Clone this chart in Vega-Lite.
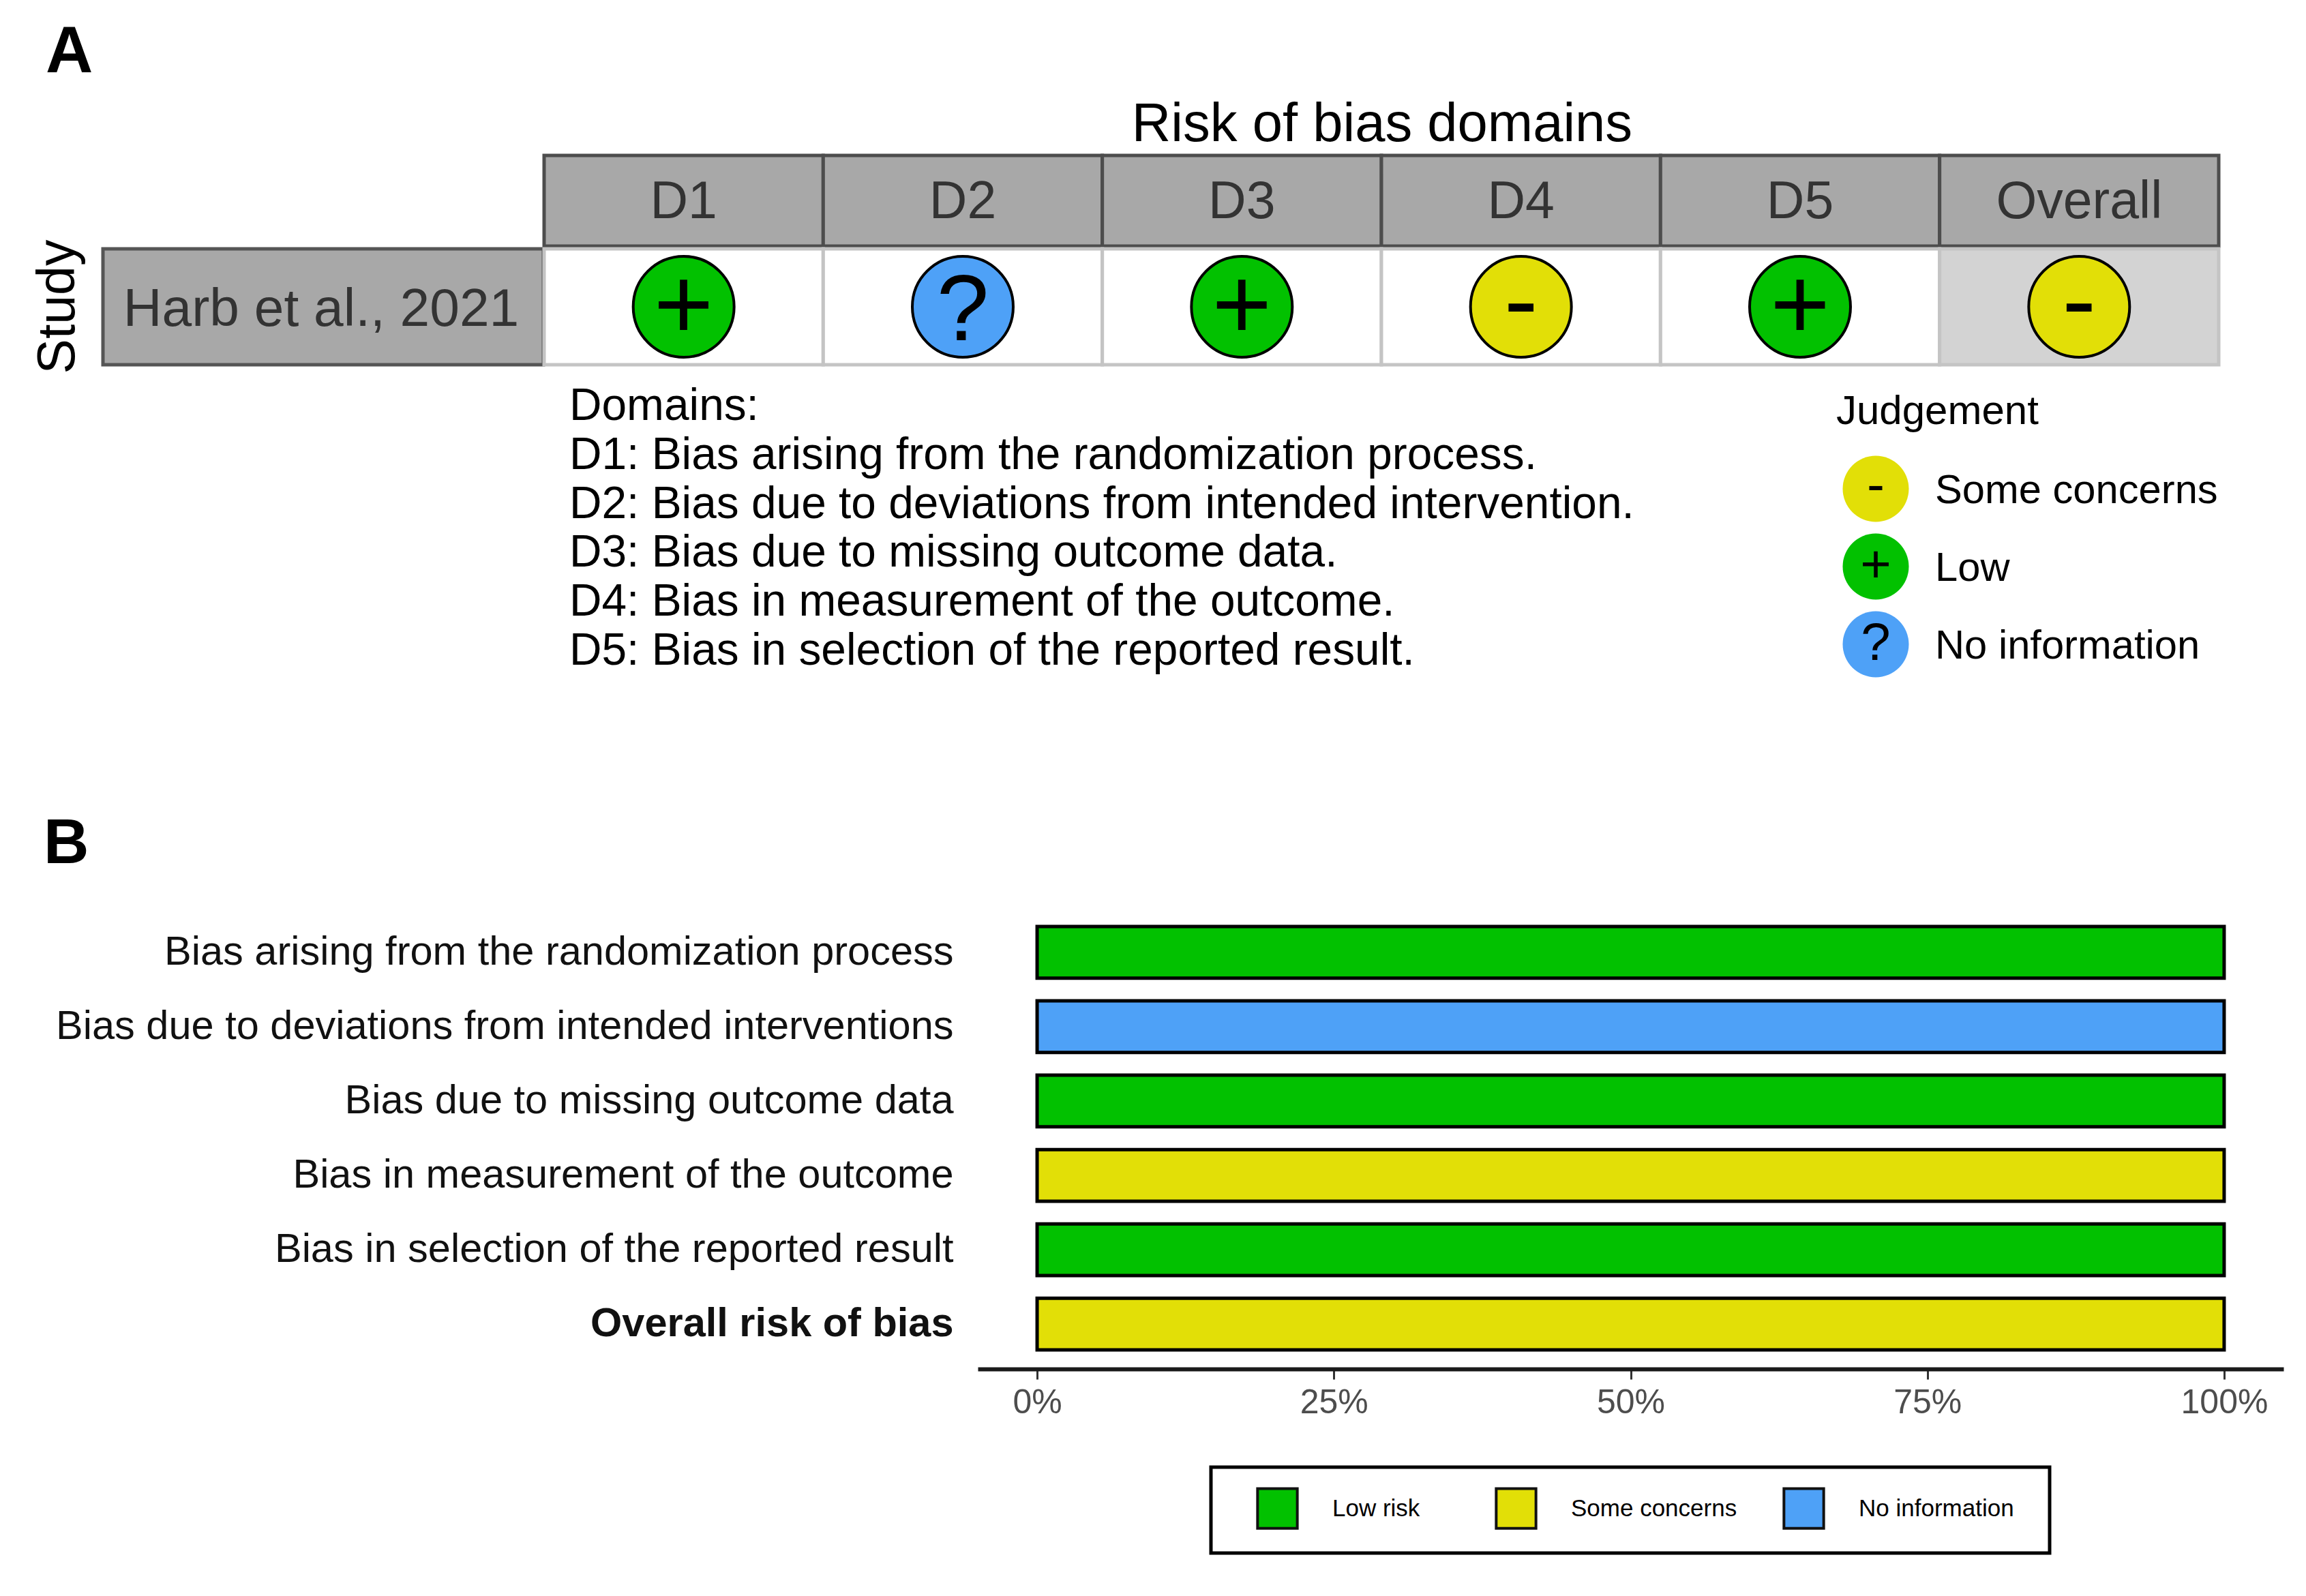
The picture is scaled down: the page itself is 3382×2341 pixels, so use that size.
{
  "$schema": "https://vega.github.io/schema/vega-lite/v6.json",
  "width": 3382,
  "height": 2341,
  "autosize": {"type": "fit", "contains": "padding"},
  "padding": 0,
  "background": "white",
  "config": {
    "font": "Liberation Sans",
    "view": {"stroke": null}
  },
  "datasets": {
    "cells": [
      {"study": "Harb et al., 2021", "domain": "D1", "judgement": "Low", "symbol": "+"},
      {"study": "Harb et al., 2021", "domain": "D2", "judgement": "No information", "symbol": "?"},
      {"study": "Harb et al., 2021", "domain": "D3", "judgement": "Low", "symbol": "+"},
      {"study": "Harb et al., 2021", "domain": "D4", "judgement": "Some concerns", "symbol": "-"},
      {"study": "Harb et al., 2021", "domain": "D5", "judgement": "Low", "symbol": "+"},
      {"study": "Harb et al., 2021", "domain": "Overall", "judgement": "Some concerns", "symbol": "-"}
    ],
    "key": [
      {"block": "key", "judgement": "Some concerns", "symbol": "-"},
      {"block": "key", "judgement": "Low", "symbol": "+"},
      {"block": "key", "judgement": "No information", "symbol": "?"}
    ],
    "notes": [
      {"block": "notes", "line": "Domains:"},
      {"block": "notes", "line": "D1: Bias arising from the randomization process."},
      {"block": "notes", "line": "D2: Bias due to deviations from intended intervention."},
      {"block": "notes", "line": "D3: Bias due to missing outcome data."},
      {"block": "notes", "line": "D4: Bias in measurement of the outcome."},
      {"block": "notes", "line": "D5: Bias in selection of the reported result."}
    ],
    "bars": [
      {"item": "Bias arising from the randomization process", "share": 1, "judgement": "Low risk"},
      {"item": "Bias due to deviations from intended interventions", "share": 1, "judgement": "No information"},
      {"item": "Bias due to missing outcome data", "share": 1, "judgement": "Low risk"},
      {"item": "Bias in measurement of the outcome", "share": 1, "judgement": "Some concerns"},
      {"item": "Bias in selection of the reported result", "share": 1, "judgement": "Low risk"},
      {"item": "Overall risk of bias", "share": 1, "judgement": "Some concerns"}
    ]
  },
  "resolve": {
    "scale": {"x": "independent", "y": "independent", "color": "independent", "size": "independent"},
    "axis": {"x": "independent", "y": "independent"},
    "legend": {"color": "independent"}
  },
  "layer": [
    {
      "data": {"values": [{"panel": "A"}]},
      "mark": {"type": "text", "fontSize": 96, "fontWeight": "bold", "align": "left", "color": "black"},
      "encoding": {
        "x": {"field": "panel", "type": "nominal", "axis": null, "scale": {"type": "point", "range": [67, 67]}},
        "y": {"field": "panel", "type": "nominal", "axis": null, "scale": {"type": "point", "range": [77, 77]}},
        "text": {"field": "panel"}
      }
    },
    {
      "data": {"values": [{"panel": "B"}]},
      "mark": {"type": "text", "fontSize": 92, "fontWeight": "bold", "align": "left", "color": "black"},
      "encoding": {
        "x": {"field": "panel", "type": "nominal", "axis": null, "scale": {"type": "point", "range": [64, 64]}},
        "y": {"field": "panel", "type": "nominal", "axis": null, "scale": {"type": "point", "range": [1238, 1238]}},
        "text": {"field": "panel"}
      }
    },
    {
      "data": {"values": [{"title": "Risk of bias domains"}]},
      "mark": {"type": "text", "fontSize": 79.6, "color": "black"},
      "encoding": {
        "x": {"field": "title", "type": "nominal", "axis": null, "scale": {"type": "point", "range": [2027, 2027]}},
        "y": {"field": "title", "type": "nominal", "axis": null, "scale": {"type": "point", "range": [183, 183]}},
        "text": {"field": "title"}
      }
    },
    {
      "data": {"values": [{"title": "Study"}]},
      "mark": {"type": "text", "fontSize": 77, "angle": 270, "baseline": "alphabetic", "color": "black"},
      "encoding": {
        "x": {"field": "title", "type": "nominal", "axis": null, "scale": {"type": "point", "range": [109, 109]}},
        "y": {"field": "title", "type": "nominal", "axis": null, "scale": {"type": "point", "range": [450, 450]}},
        "text": {"field": "title"}
      }
    },
    {
      "data": {"values": [{"study": "Harb et al., 2021"}]},
      "layer": [
        {"mark": {"type": "rect", "fill": "#a8a8a8", "stroke": "#555555", "strokeWidth": 5}},
        {"mark": {"type": "text", "fontSize": 78.5, "color": "#333333", "dy": 4, "dx": -3}, "encoding": {"text": {"field": "study"}}}
      ],
      "encoding": {
        "x": {"field": "study", "type": "nominal", "axis": null, "scale": {"type": "band", "range": [151, 797], "paddingInner": 0, "paddingOuter": 0}},
        "y": {"field": "study", "type": "nominal", "axis": null, "scale": {"type": "band", "range": [365, 535], "paddingInner": 0, "paddingOuter": 0}}
      }
    },
    {
      "data": {"name": "cells"},
      "layer": [
        {"mark": {"type": "rect", "fill": "#a8a8a8", "stroke": "#4d4d4d", "strokeWidth": 5}},
        {"mark": {"type": "text", "fontSize": 77, "color": "#333333", "dy": 2}, "encoding": {"text": {"field": "domain"}}}
      ],
      "encoding": {
        "x": {"field": "domain", "type": "nominal", "axis": null, "sort": null, "scale": {"type": "band", "domain": ["D1", "D2", "D3", "D4", "D5", "Overall"], "range": [798, 3254], "paddingInner": 0, "paddingOuter": 0}},
        "y": {"datum": "Risk of bias domains", "type": "nominal", "axis": null, "scale": {"type": "band", "range": [228, 361], "paddingInner": 0, "paddingOuter": 0}}
      }
    },
    {
      "data": {"name": "cells"},
      "layer": [
        {
          "mark": {"type": "rect", "stroke": "#c4c4c4", "strokeWidth": 5},
          "encoding": {
            "fill": {"field": "domain", "type": "nominal", "legend": null, "scale": {"domain": ["D1", "D2", "D3", "D4", "D5", "Overall"], "range": ["#ffffff", "#ffffff", "#ffffff", "#ffffff", "#ffffff", "#d3d3d3"]}}
          }
        },
        {
          "mark": {"type": "point", "shape": "circle", "filled": true, "size": 21900, "stroke": "black", "strokeWidth": 4, "opacity": 1},
          "encoding": {
            "color": {"field": "judgement", "type": "nominal", "legend": null, "scale": {"domain": ["Low", "Some concerns", "No information"], "range": ["#02c100", "#e2df07", "#4ea1f7"]}}
          }
        },
        {
          "mark": {
            "type": "text",
            "color": "black",
            "fontSize": {"expr": "datum.symbol == '?' ? 138 : 150"},
            "dy": {"expr": "datum.symbol == '?' ? 8 : datum.symbol == '-' ? -4 : 2"}
          },
          "encoding": {"text": {"field": "symbol"}}
        }
      ],
      "encoding": {
        "x": {"field": "domain", "type": "nominal", "axis": null, "sort": null, "scale": {"type": "band", "domain": ["D1", "D2", "D3", "D4", "D5", "Overall"], "range": [798, 3254], "paddingInner": 0, "paddingOuter": 0}},
        "y": {"field": "study", "type": "nominal", "axis": null, "scale": {"type": "band", "range": [365, 535], "paddingInner": 0, "paddingOuter": 0}}
      }
    },
    {
      "data": {"name": "notes"},
      "mark": {"type": "text", "fontSize": 65.8, "align": "left", "color": "black"},
      "encoding": {
        "x": {"field": "block", "type": "nominal", "axis": null, "scale": {"type": "point", "range": [835, 835]}},
        "y": {"field": "line", "type": "nominal", "axis": null, "sort": null, "scale": {"type": "point", "range": [596, 955], "padding": 0}},
        "text": {"field": "line"}
      }
    },
    {
      "data": {"values": [{"title": "Judgement"}]},
      "mark": {"type": "text", "fontSize": 60, "align": "left", "color": "black"},
      "encoding": {
        "x": {"field": "title", "type": "nominal", "axis": null, "scale": {"type": "point", "range": [2693, 2693]}},
        "y": {"field": "title", "type": "nominal", "axis": null, "scale": {"type": "point", "range": [604, 604]}},
        "text": {"field": "title"}
      }
    },
    {
      "data": {"name": "key"},
      "layer": [
        {
          "mark": {"type": "point", "shape": "circle", "filled": true, "size": 9400, "opacity": 1},
          "encoding": {
            "color": {"field": "judgement", "type": "nominal", "legend": null, "scale": {"domain": ["Low", "Some concerns", "No information"], "range": ["#02c100", "#e2df07", "#4ea1f7"]}}
          }
        },
        {
          "mark": {"type": "text", "fontSize": 78, "color": "black", "dy": {"expr": "datum.symbol == '-' ? -3 : 0"}},
          "encoding": {"text": {"field": "symbol"}}
        }
      ],
      "encoding": {
        "x": {"field": "block", "type": "nominal", "axis": null, "scale": {"type": "point", "range": [2751, 2751]}},
        "y": {"field": "judgement", "type": "nominal", "axis": null, "sort": null, "scale": {"type": "point", "domain": ["Some concerns", "Low", "No information"], "range": [717, 945], "padding": 0}}
      }
    },
    {
      "data": {"name": "key"},
      "mark": {"type": "text", "fontSize": 59.7, "align": "left", "color": "black"},
      "encoding": {
        "x": {"field": "block", "type": "nominal", "axis": null, "scale": {"type": "point", "range": [2838, 2838]}},
        "y": {"field": "judgement", "type": "nominal", "axis": null, "sort": null, "scale": {"type": "point", "domain": ["Some concerns", "Low", "No information"], "range": [720, 948], "padding": 0}},
        "text": {"field": "judgement"}
      }
    },
    {
      "data": {"values": [{"box": "legend"}]},
      "mark": {"type": "rect", "fill": "white", "stroke": "black", "strokeWidth": 5},
      "encoding": {
        "x": {"field": "box", "type": "nominal", "axis": null, "scale": {"type": "band", "range": [1776, 3006], "paddingInner": 0, "paddingOuter": 0}},
        "y": {"field": "box", "type": "nominal", "axis": null, "scale": {"type": "band", "range": [2152, 2278], "paddingInner": 0, "paddingOuter": 0}}
      }
    },
    {
      "data": {"name": "bars"},
      "mark": {"type": "bar", "stroke": "black", "strokeWidth": 5, "opacity": 1},
      "encoding": {
        "x": {
          "field": "share",
          "type": "quantitative",
          "stack": null,
          "title": null,
          "scale": {"domain": [-0.05, 1.05], "nice": false, "zero": false, "range": [1434, 3349]},
          "axis": {
            "orient": "bottom",
            "offset": -333,
            "values": [0, 0.25, 0.5, 0.75, 1],
            "format": ".0%",
            "grid": false,
            "domainColor": "#1a1a1a",
            "domainWidth": 6,
            "tickColor": "#333333",
            "tickWidth": 3,
            "tickSize": 15,
            "labelColor": "#4d4d4d",
            "labelFontSize": 50,
            "labelPadding": 9,
            "labelFlush": false,
            "labelOverlap": false
          }
        },
        "y": {
          "field": "item",
          "type": "nominal",
          "sort": null,
          "title": null,
          "scale": {"type": "band", "range": [1359, 1980], "paddingInner": 0.305, "paddingOuter": 0},
          "axis": {
            "orient": "left",
            "offset": -1434,
            "domain": false,
            "ticks": false,
            "grid": false,
            "labelColor": "#111111",
            "labelFontSize": 59.5,
            "labelPadding": 36,
            "labelLimit": 1500,
            "labelFontWeight": {"expr": "datum.value == 'Overall risk of bias' ? 'bold' : 'normal'"}
          }
        },
        "color": {
          "field": "judgement",
          "type": "nominal",
          "scale": {"domain": ["Low risk", "Some concerns", "No information"], "range": ["#02c100", "#e2df07", "#4ea1f7"]},
          "legend": {
            "orient": "none",
            "legendX": 1842,
            "legendY": 2181,
            "direction": "horizontal",
            "title": null,
            "columns": 3,
            "padding": 0,
            "symbolType": "square",
            "symbolSize": 3400,
            "symbolStrokeColor": "#111111",
            "symbolStrokeWidth": 4,
            "symbolOpacity": 1,
            "labelFontSize": 35,
            "labelColor": "black",
            "labelOffset": 49,
            "labelLimit": 400,
            "columnPadding": 60,
            "labelExpr": "datum.label == 'Low risk' ? 'Low risk\u2002\u2800' : datum.label"
          }
        }
      }
    }
  ]
}
